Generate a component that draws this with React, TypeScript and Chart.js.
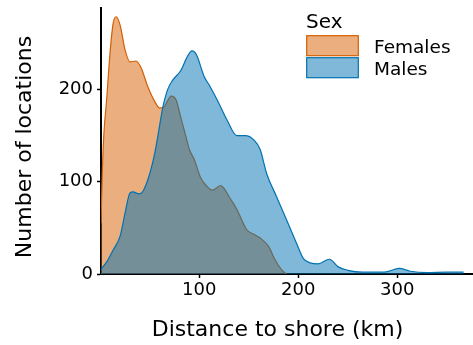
import React, { useEffect, useRef } from "react";
import { Chart, registerables } from "chart.js";

Chart.register(...registerables);

// ---- data (distance to shore in km, number of locations) ----
const femaleKm = [0.7, 2, 3.5, 6.4, 10, 13, 16, 20, 25, 30, 36, 41.5, 48, 55, 60, 65, 71.5, 76.5, 81.5, 86.5, 90, 95, 101.5, 107, 113, 117, 121.5, 125, 130, 138, 148, 155, 161.5, 170, 176.5, 183, 188];
const femaleCount = [55, 110, 150, 189, 242, 272, 279, 270, 243, 230, 231, 223, 203, 187, 180, 182, 193, 189, 169, 149, 135, 124, 104, 96, 91, 93, 96, 93, 84, 70, 48, 43, 39, 30, 15.5, 4.7, 0];

const maleKm = [0.7, 7, 13, 20, 25, 30, 33, 39, 43, 50, 55, 59, 63, 68, 73, 81.5, 88, 92.5, 97, 105, 110, 118, 128, 138, 146.5, 155, 161.5, 168, 178, 188, 198, 205, 212, 220, 231.5, 240, 250, 265, 287, 302, 313, 330, 350, 367];
const maleCount = [5, 14, 26, 41, 66, 88, 89, 87, 89.5, 109, 131, 155, 180, 200, 210, 221, 236, 242, 238, 214, 205, 189, 167, 150, 150, 145.5, 135, 109, 84, 59, 34, 17, 12, 11, 16, 8, 4, 2, 2, 6, 3, 1.5, 2, 2];

const seriesNames = ["Females", "Males"];
const xTickValues = [100, 200, 300];
const yTickValues = [0, 100, 200];
const xTitle = "Distance to shore (km)";
const yTitle = "Number of locations";
const legendTitle = "Sex";

const FONT = "'DejaVu Sans', 'Liberation Sans', Arial, sans-serif";
const femaleLine = "#D55E00";
const femaleFill = "rgba(213,94,0,0.5)";
const maleLine = "#0072B2";
const maleFill = "rgba(0,114,178,0.5)";

const overlayPlugin = {
  id: "overlay",
  afterDraw(chart: any) {
    const ctx = chart.ctx as CanvasRenderingContext2D;
    ctx.save();
    ctx.fillStyle = "#000";
    // x title
    ctx.font = `22px ${FONT}`;
    ctx.textAlign = "center";
    ctx.textBaseline = "alphabetic";
    ctx.fillText(xTitle, 277.5, 336);
    // y title
    ctx.save();
    ctx.translate(31, 147);
    ctx.rotate(-Math.PI / 2);
    ctx.fillText(yTitle, 0, 0);
    ctx.restore();
    // legend
    ctx.textAlign = "left";
    ctx.font = `20px ${FONT}`;
    ctx.fillText(legendTitle, 306, 27.5);
    const boxes = [
      { y: 35.7, fill: femaleFill, line: femaleLine },
      { y: 57.7, fill: maleFill, line: maleLine },
    ];
    ctx.font = `18.5px ${FONT}`;
    boxes.forEach((b, i) => {
      ctx.fillStyle = "#fff";
      ctx.fillRect(306.7, b.y, 51.6, 20);
      ctx.fillStyle = b.fill;
      ctx.fillRect(306.7, b.y, 51.6, 20);
      ctx.strokeStyle = b.line;
      ctx.lineWidth = 1.2;
      ctx.strokeRect(306.7, b.y, 51.6, 20);
      ctx.fillStyle = "#000";
      ctx.fillText(seriesNames[i], 374, b.y + 17.6);
    });
    ctx.restore();
  },
};

export default function App() {
  const ref = useRef<HTMLCanvasElement | null>(null);
  useEffect(() => {
    if (!ref.current) return;
    const chart = new Chart(ref.current, {
      type: "line",
      data: {
        datasets: [
          {
            label: seriesNames[0],
            data: femaleKm.map((x, i) => ({ x, y: femaleCount[i] })),
            borderColor: femaleLine,
            backgroundColor: femaleFill,
            borderWidth: 1.2,
            fill: "origin",
            pointRadius: 0,
            cubicInterpolationMode: "monotone",
            order: 2,
          },
          {
            label: seriesNames[1],
            data: maleKm.map((x, i) => ({ x, y: maleCount[i] })),
            borderColor: maleLine,
            backgroundColor: maleFill,
            borderWidth: 1.2,
            fill: "origin",
            pointRadius: 0,
            cubicInterpolationMode: "monotone",
            order: 1,
          },
        ],
      },
      options: {
        animation: false,
        responsive: false,
        devicePixelRatio: 1,
        layout: { padding: { top: 8, right: 0, left: 0, bottom: 0 } },
        plugins: { legend: { display: false }, tooltip: { enabled: false } },
        scales: {
          x: {
            type: "linear",
            min: 0.7,
            max: 376.5,
            afterBuildTicks: (s: any) => {
              s.ticks = xTickValues.map((v) => ({ value: v }));
            },
            afterFit: (s: any) => {
              s.height = 71;
              s.paddingLeft = 0;
              s.paddingRight = 0;
            },
            border: { display: true, color: "#000", width: 2 },
            grid: { display: true, drawOnChartArea: false, drawTicks: true, tickLength: 4, tickWidth: 1.5, tickColor: "#000", color: "#000" },
            ticks: { color: "#000", font: { family: FONT, size: 18 }, padding: 2, maxRotation: 0 },
          },
          y: {
            type: "linear",
            min: 0,
            max: 288.5,
            afterBuildTicks: (s: any) => {
              s.ticks = yTickValues.map((v) => ({ value: v }));
            },
            afterFit: (s: any) => {
              s.width = 101;
              s.paddingTop = 0;
              s.paddingBottom = 0;
            },
            border: { display: true, color: "#000", width: 2 },
            grid: { display: true, drawOnChartArea: false, drawTicks: true, tickLength: 4, tickWidth: 1.5, tickColor: "#000", color: "#000" },
            ticks: { color: "#000", font: { family: FONT, size: 18 }, padding: 4 },
          },
        },
      },
      plugins: [overlayPlugin],
    } as any);
    return () => chart.destroy();
  }, []);
  return (
    <div style={{ position: "fixed", left: 0, top: 0, width: 473, height: 345, background: "#fff" }}>
      <canvas ref={ref} width={473} height={345} style={{ display: "block" }} />
    </div>
  );
}
